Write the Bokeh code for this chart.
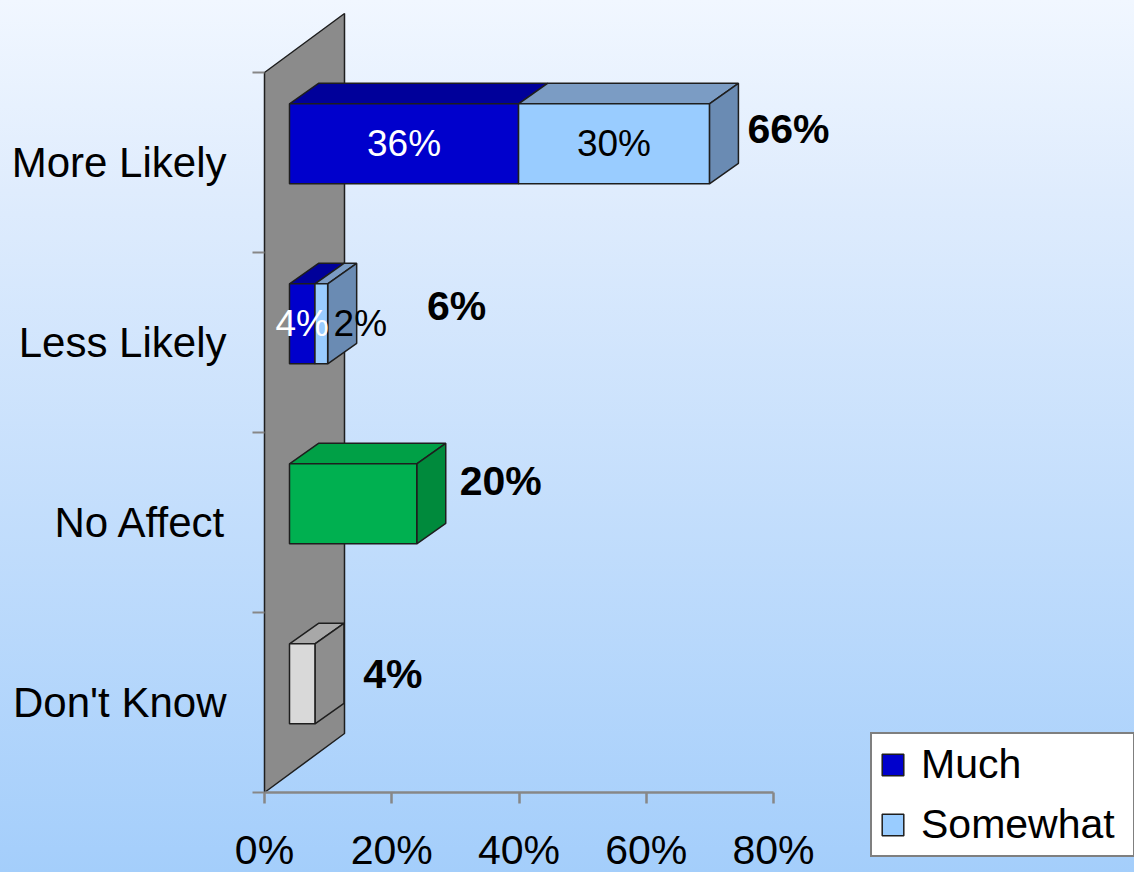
from bokeh.plotting import figure
from bokeh.models import (ColumnDataSource, FixedTicker, PrintfTickFormatter,
                          Legend, LegendItem, Range1d)
from bokeh.embed import file_html
from bokeh.resources import INLINE
from bokeh.core.properties import value

# ---- data -------------------------------------------------------------
categories = ["More Likely", "Less Likely", "No Affect", "Don't Know"]  # top to bottom
stacked_categories = ["More Likely", "Less Likely"]
much = [36, 4]
somewhat = [30, 2]
single_categories = ["No Affect", "Don't Know"]
single_values = [20, 4]
x_ticks = [0, 20, 40, 60, 80]

# ---- look -------------------------------------------------------------
FONT = "Liberation Sans"
W, H = 1134, 872
ORIGIN_X, ORIGIN_Y = 264, 792   # pixel position of (0 %, floor) on the canvas
PX = 6.3625     # pixels per percent on the x axis
PY = 180.0      # pixels per category band

# oblique 3-D projection, expressed in data units
FX, FY = 25 / PX, 18.7 / PY     # bar front plane, measured from the floor edge
DX, DY = 29 / PX, 20.5 / PY     # bar depth
WX, WY = 80 / PX, 59 / PY       # side wall depth
HALF = 40 / PY                  # half the bar thickness

EDGE = "#1e1e1e"
MUCH_COLORS = ("#0000cc", "#00009a", None)
SOMEWHAT_COLORS = ("#99ccff", "#7b9cc4", "#6a8bb3")
SINGLE_COLORS = {"No Affect": ("#00b050", "#00a046", "#008a3c"),
                 "Don't Know": ("#d9d9d9", "#a8a8a8", "#8e8e8e")}

# label nudges in pixels (right, up)
somewhat_label_nudge = {"Less Likely": (39, 0)}
total_label_nudge = {"More Likely": (104, 34), "Less Likely": (154, 37),
                     "No Affect": (109, 42), "Don't Know": (103, 29)}


def band_center(cat):
    return len(categories) - categories.index(cat) - 0.5


def faces(cat, start, end):
    """Front rectangle, top and right-side polygons of one bar segment."""
    yc = band_center(cat) + FY
    x0, x1 = start + FX, end + FX
    y0, y1 = yc - HALF, yc + HALF
    front = (x0, x1, y0, y1)
    top = ([x0, x1, x1 + DX, x0 + DX], [y1, y1, y1 + DY, y1 + DY])
    side = ([x1, x1, x1 + DX, x1 + DX], [y0, y1, y1 + DY, y0 + DY])
    return front, top, side


# the plot frame fills the whole canvas; axes sit at fixed data positions
p = figure(width=W, height=H,
           x_range=Range1d(-ORIGIN_X / PX, (W - ORIGIN_X) / PX),
           y_range=Range1d(-(H - ORIGIN_Y) / PY, ORIGIN_Y / PY),
           min_border=0, output_backend="svg", toolbar_location=None)
p.background_fill_alpha = 0
p.border_fill_alpha = 0
p.outline_line_color = None
p.styles = {"background": "linear-gradient(180deg, #f1f7ff 0%, #dfecfd 22%, #a4cefb 100%)"}
p.xgrid.visible = False
p.ygrid.visible = False

# side wall
p.patch([0, 0, WX, WX], [0, len(categories), len(categories) + WY, WY],
        fill_color="#8b8b8b", line_color=EDGE, line_width=1.5)


def draw_series(cats, starts, ends, colors_per_cat, with_side):
    fronts = dict(left=[], right=[], bottom=[], top=[], color=[])
    tops = dict(xs=[], ys=[], color=[])
    sides = dict(xs=[], ys=[], color=[])
    for cat, a, b, cols in zip(cats, starts, ends, colors_per_cat):
        (x0, x1, y0, y1), (tx, ty), (sx, sy) = faces(cat, a, b)
        fronts["left"].append(x0); fronts["right"].append(x1)
        fronts["bottom"].append(y0); fronts["top"].append(y1)
        fronts["color"].append(cols[0])
        tops["xs"].append(tx); tops["ys"].append(ty); tops["color"].append(cols[1])
        if with_side:
            sides["xs"].append(sx); sides["ys"].append(sy); sides["color"].append(cols[2])
    p.patches("xs", "ys", source=ColumnDataSource(tops), fill_color="color",
              line_color=EDGE, line_width=1.5)
    if with_side:
        p.patches("xs", "ys", source=ColumnDataSource(sides), fill_color="color",
                  line_color=EDGE, line_width=1.5)
    return p.quad(left="left", right="right", bottom="bottom", top="top",
                  source=ColumnDataSource(fronts), fill_color="color",
                  line_color=EDGE, line_width=1.5)


much_end = much
somewhat_end = [m + s for m, s in zip(much, somewhat)]
r_much = draw_series(stacked_categories, [0] * len(much), much_end,
                     [MUCH_COLORS] * len(much), False)
r_some = draw_series(stacked_categories, much_end, somewhat_end,
                     [SOMEWHAT_COLORS] * len(much), True)
draw_series(single_categories, [0] * len(single_values), single_values,
            [SINGLE_COLORS[c] for c in single_categories], True)

# segment labels
seg = dict(x=[], y=[], text=[], color=[])
for cat, m, s in zip(stacked_categories, much, somewhat):
    yc = band_center(cat) + FY
    seg["x"].append(FX + m / 2); seg["y"].append(yc)
    seg["text"].append(f"{m}%"); seg["color"].append("white")
    nx, ny = somewhat_label_nudge.get(cat, (0, 0))
    seg["x"].append(FX + m + s / 2 + nx / PX); seg["y"].append(yc + ny / PY)
    seg["text"].append(f"{s}%"); seg["color"].append("black")
p.text("x", "y", text="text", source=ColumnDataSource(seg), text_color="color",
       text_font=value(FONT), text_font_size="37px", text_align="center",
       text_baseline="middle")

# totals
totals = dict(zip(stacked_categories, somewhat_end))
totals.update(zip(single_categories, single_values))
tot = dict(x=[], y=[], text=[])
for cat in categories:
    nx, ny = total_label_nudge[cat]
    tot["x"].append(totals[cat] + nx / PX)
    tot["y"].append(band_center(cat) + ny / PY)
    tot["text"].append(f"{totals[cat]}%")
p.text("x", "y", text="text", source=ColumnDataSource(tot), text_color="black",
       text_font=value(FONT), text_font_size="41px", text_font_style="bold",
       text_align="center", text_baseline="middle")

# axes, pinned at the floor edge (y = 0) and the wall edge (x = 0)
GRAY = "#878787"
xa = p.xaxis[0]
xa.fixed_location = 0
xa.ticker = FixedTicker(ticks=x_ticks)
xa.formatter = PrintfTickFormatter(format="%d%%")
xa.bounds = (0, x_ticks[-1])
xa.axis_line_color = GRAY
xa.axis_line_width = 2.5
xa.major_tick_line_color = GRAY
xa.major_tick_line_width = 2.5
xa.major_tick_out = 11
xa.major_tick_in = 0
xa.minor_tick_line_color = None
xa.major_label_text_font = FONT
xa.major_label_text_font_size = "41px"
xa.major_label_text_color = "black"
xa.major_label_standoff = 23

ya = p.yaxis[0]
ya.fixed_location = 0
centers = [band_center(c) for c in categories]
ya.ticker = FixedTicker(ticks=centers, minor_ticks=list(range(len(categories) + 1)))
ya.major_label_overrides = {c: name for c, name in zip(centers, categories)}
ya.bounds = (0, len(categories))
ya.axis_line_color = None
ya.major_tick_line_color = None
ya.major_tick_out = 0
ya.major_tick_in = 0
ya.minor_tick_line_color = GRAY
ya.minor_tick_line_width = 2
ya.minor_tick_out = 12
ya.minor_tick_in = 0
ya.major_label_text_font = FONT
ya.major_label_text_font_size = "42px"
ya.major_label_text_color = "black"
ya.major_label_standoff = 26

legend = Legend(items=[LegendItem(label="Much", renderers=[r_much]),
                       LegendItem(label="Somewhat", renderers=[r_some])],
                location=(870, H - 857), orientation="vertical",
                label_text_font=FONT, label_text_font_size="41px",
                label_text_color="black",
                glyph_width=27, glyph_height=27, label_standoff=15,
                padding=7, spacing=13, margin=0, label_width=205,
                border_line_color="black", border_line_width=2,
                background_fill_color="white", background_fill_alpha=1)
p.add_layout(legend)

open("out.html", "w").write(file_html(p, INLINE))
